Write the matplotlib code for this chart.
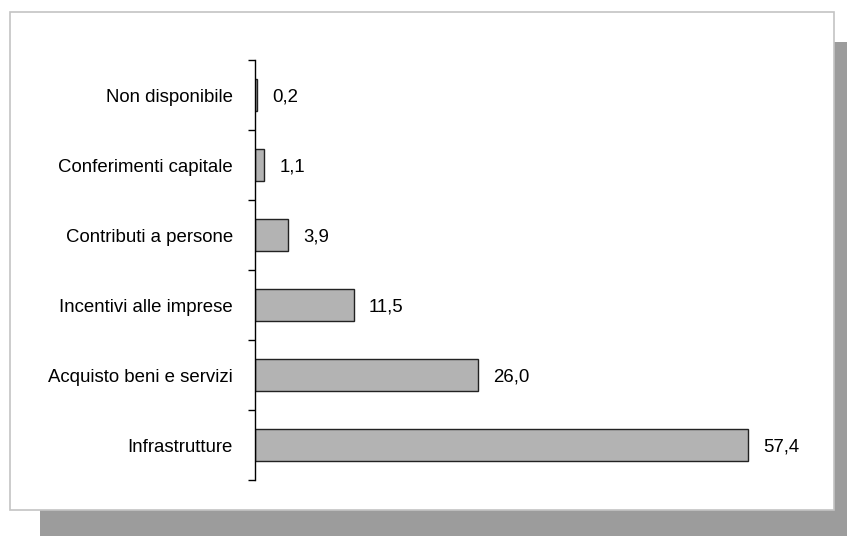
import matplotlib.pyplot as plt
from matplotlib.patches import Rectangle

# categories listed bottom to top
categories = ['Infrastrutture', 'Acquisto beni e servizi', 'Incentivi alle imprese',
              'Contributi a persone', 'Conferimenti capitale', 'Non disponibile']
values = [57.4, 26.0, 11.5, 3.9, 1.1, 0.2]
value_labels = ['57,4', '26,0', '11,5', '3,9', '1,1', '0,2']

plt.rcParams['font.family'] = ['Liberation Sans', 'DejaVu Sans']

W, H = 847, 536
fig = plt.figure(figsize=(W / 100, H / 100), dpi=100)

# drop shadow and white frame
fig.patches.append(Rectangle((40 / W, -10 / H), 830 / W, (536 - 42 + 10) / H,
                             transform=fig.transFigure, facecolor='#9c9c9c',
                             edgecolor='none', zorder=0))
fig.patches.append(Rectangle((10 / W, (H - 510) / H), 824 / W, 498 / H,
                             transform=fig.transFigure, facecolor='white',
                             edgecolor='#c4c4c4', linewidth=1.2, zorder=1))

ax = fig.add_axes([255 / W, (H - 480) / H, 515 / W, 420 / H])
ax.patch.set_alpha(0)
ax.set_zorder(2)

y = list(range(len(categories)))
ax.barh(y, values, height=0.45, color='#b3b3b3', edgecolor='#222222', linewidth=1.0)

for yi, v, lab in zip(y, values, value_labels):
    ax.annotate(lab, (v, yi), xytext=(11, 0), textcoords='offset points',
                va='center_baseline', ha='left', fontsize=13.4)

ax.set_xlim(0, 60)
ax.set_ylim(-0.5, len(categories) - 0.5)

# boundary ticks as major, labels on minor ticks at centres
ax.set_yticks([i - 0.5 for i in range(len(categories) + 1)])
ax.set_yticklabels([])
ax.set_yticks(y, minor=True)
ax.set_yticklabels(categories, minor=True, fontsize=13.4, va='center_baseline')
ax.tick_params(axis='y', which='major', direction='out', length=5, width=1)
ax.tick_params(axis='y', which='minor', length=0, pad=16)
ax.set_xticks([])

for s in ['top', 'right', 'bottom']:
    ax.spines[s].set_visible(False)
ax.spines['left'].set_linewidth(1)

fig.savefig('out.png', dpi=100)
